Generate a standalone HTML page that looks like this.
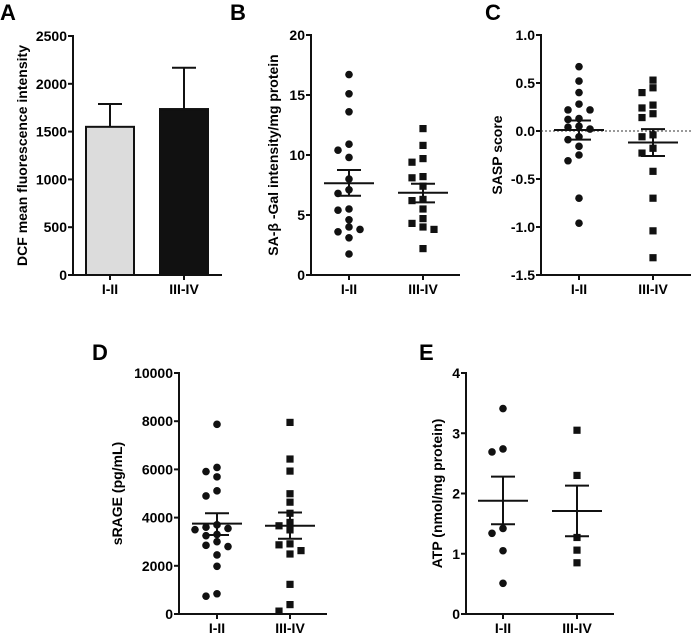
<!DOCTYPE html>
<html><head><meta charset="utf-8"><style>
body{margin:0;background:#fff}
svg{display:block;font-family:"Liberation Sans",Arial,sans-serif;font-weight:bold}
</style></head><body>
<svg id="fig" width="691" height="634" viewBox="0 0 691 634"></svg>
<script>
const categories=["I-II","III-IV"];
const aMeans=[1550,1736];
const aErr=[1789,2168];
const bG1=[16.7,15.1,13.6,10.9,10.4,9.8,8.0,7.1,6.8,5.5,5.4,4.6,4.0,3.6,3.8,3.1,1.75];
const bG2=[12.2,10.8,9.7,9.4,8.2,8.1,7.4,6.3,6.2,5.5,4.7,4.3,4.0,3.8,2.2];
const bStats=[[7.65,8.75,6.6],[6.85,7.6,6.05]];
const cG1=[0.67,0.52,0.40,0.28,0.22,0.22,0.13,0.12,0.05,0.04,0.02,-0.06,-0.09,-0.16,-0.25,-0.31,-0.70,-0.96];
const cG2=[0.53,0.45,0.40,0.27,0.24,0.18,0.14,-0.04,-0.06,-0.18,-0.23,-0.42,-0.70,-1.04,-1.32];
const cStats=[[0.01,0.11,-0.09],[-0.12,0.02,-0.26]];
const dG1=[7870,6080,5910,5690,5110,4900,3700,3600,3550,3500,3300,3250,3000,2850,2800,2450,1980,840,740];
const dG2=[7950,6430,5930,4990,4640,4180,3800,3660,3490,2910,2870,2630,2490,1230,390,120];
const dStats=[[3750,4180,3280],[3660,4210,3120]];
const eG1=[3.41,2.74,2.69,1.42,1.34,1.05,0.51];
const eG2=[3.05,2.30,1.27,1.06,0.85];
const eStats=[[1.88,2.28,1.49],[1.71,2.13,1.29]];
const aTicks=[0,500,1000,1500,2000,2500];
const bTicks=[0,5,10,15,20];
const cTicks=[-1.5,-1.0,-0.5,0.0,0.5,1.0];
const dTicks=[0,2000,4000,6000,8000,10000];
const eTicks=[0,1,2,3,4];

const NS="http://www.w3.org/2000/svg";
const svg=document.getElementById('fig');
function el(tag,attrs,parent,text){const e=document.createElementNS(NS,tag);for(const k in attrs)e.setAttribute(k,attrs[k]);if(text!==undefined)e.textContent=text;(parent||svg).appendChild(e);return e;}

function panel(p){
  const g=el('g',{});
  
  
  const y=v=>p.y0-(v-p.min)/(p.max-p.min)*(p.y0-p.y1);
  const t=el('text',{x:p.lx,y:p.ly,'font-size':22},g,p.letter);
  
  
  const ax=el('line',{x1:p.ax,y1:p.y1-1,x2:p.ax,y2:p.y0+1,stroke:'#111','stroke-width':2},g);
  
  
  const xx=el('line',{x1:p.ax-1,y1:p.y0,x2:p.xend,y2:p.y0,stroke:'#111','stroke-width':2},g);
  
  
  p.ticks.forEach(v=>{
    el('line',{x1:p.ax-5,y1:y(v),x2:p.ax,y2:y(v),stroke:'#111','stroke-width':2},g);
    const tl=el('text',{x:p.ax-6,y:y(v)+5,'font-size':14,'text-anchor':'end'},g,p.fmt(v));
    
    
  });
  const yt=el('text',{x:0,y:0,'font-size':14,'text-anchor':'middle',transform:`translate(${p.tx},${(p.y0+p.y1)/2}) rotate(-90)`},g,p.title);
  
  
  p.cx.forEach((c,i)=>{
    el('line',{x1:c,y1:p.y0,x2:c,y2:p.y0+5,stroke:'#111','stroke-width':2},g);
    const cl=el('text',{x:c,y:p.y0+19,'font-size':14,'text-anchor':'middle'},g,categories[i]);
    
    
  });
  if(p.zero){const z=el('line',{x1:p.ax,y1:y(0),x2:p.xend,y2:y(0),stroke:'#333','stroke-width':1,'stroke-dasharray':'2,2'},g);
    
    }
  return {g,y};
}

function swarm(vals,y){
  const placed=[];const offs=[0,-11,11,-22,22,-33,33];
  return vals.map(v=>{const py=y(v);let dx=0;
    for(const o of offs){if(!placed.some(q=>Math.abs(q[1]-py)<7&&Math.abs(q[0]-o)<8)){dx=o;break;}}
    placed.push([dx,py]);return dx;});
}

function scatter(p,groups,stats){
  const {g,y}=panel(p);
  groups.forEach((vals,gi)=>{
    const c=p.cx[gi];const offs=swarm(vals,y);
    vals.forEach((v,i)=>{
      let m;
      if(gi===0)m=el('circle',{cx:c+offs[i],cy:y(v),r:3.8,fill:'#111'},g);
      else m=el('rect',{x:c+offs[i]-3.6,y:y(v)-3.6,width:7.2,height:7.2,fill:'#111'},g);
      
      
    });
    const s=stats[gi];
    const ml=el('line',{x1:c-25,y1:y(s[0]),x2:c+25,y2:y(s[0]),stroke:'#111','stroke-width':2},g);
    
    
    const eb=el('path',{d:`M${c-12},${y(s[1])}H${c+12}M${c},${y(s[1])}V${y(s[2])}M${c-12},${y(s[2])}H${c+12}`,stroke:'#111','stroke-width':2,fill:'none'},g);
    
    
  });
}

// Panel A
(function(){
  const p={letter:'A',lx:0,ly:20,ax:73,y0:275,y1:36,xend:222,min:0,max:2500,ticks:aTicks,fmt:v=>String(v),title:'DCF mean fluorescence intensity',tx:27,cx:[110,184]};
  const {g,y}=panel(p);
  const fills=['#dcdcdc','#111'];
  aMeans.forEach((v,i)=>{
    const c=p.cx[i];
    const e=el('path',{d:`M${c},${y(v)}V${y(aErr[i])}M${c-12},${y(aErr[i])}H${c+12}`,stroke:'#111','stroke-width':2,fill:'none'},g);
    
    
    const b=el('rect',{x:c-24,y:y(v),width:48,height:p.y0-y(v),fill:fills[i],stroke:'#111','stroke-width':2},g);
    
    
  });
})();
scatter({letter:'B',lx:230,ly:20,ax:311,y0:275,y1:35,xend:460,min:0,max:20,ticks:bTicks,fmt:v=>String(v),title:'SA-β -Gal intensity/mg protein',tx:278,cx:[349,423]},[bG1,bG2],bStats);
scatter({letter:'C',lx:485,ly:20,ax:541,y0:275,y1:35,xend:691,min:-1.5,max:1.0,ticks:cTicks,fmt:v=>v.toFixed(1),title:'SASP score',tx:502,cx:[579,653],zero:true},[cG1,cG2],cStats);
scatter({letter:'D',lx:92,ly:360,ax:179,y0:614,y1:373,xend:327,min:0,max:10000,ticks:dTicks,fmt:v=>String(v),title:'sRAGE (pg/mL)',tx:122,cx:[217,290]},[dG1,dG2],dStats);
scatter({letter:'E',lx:419,ly:360,ax:466,y0:614,y1:373,xend:614,min:0,max:4,ticks:eTicks,fmt:v=>String(v),title:'ATP (nmol/mg protein)',tx:442,cx:[503,577]},[eG1,eG2],eStats);
</script>
</body></html>
